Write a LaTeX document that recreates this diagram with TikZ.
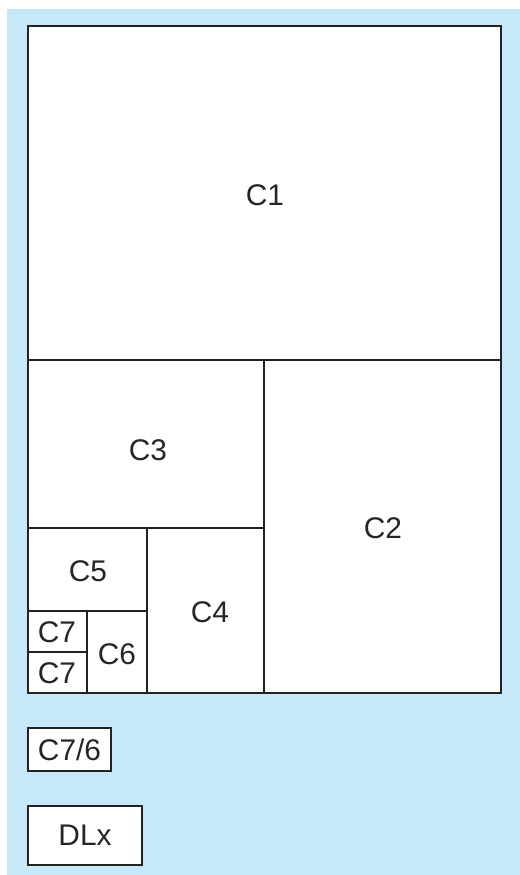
\documentclass[tikz,border=0pt]{standalone}
\usepackage{fontspec}
\setmainfont{Liberation Sans}
\usetikzlibrary{positioning}
\definecolor{skyblue}{RGB}{198,232,248}
\definecolor{edge}{RGB}{34,34,34}

\begin{document}
\begin{tikzpicture}[x=0.02cm,y=-0.02cm,
    wall/.style={draw=edge, line width=1.1pt},
    lbl/.style={font=\fontsize{17}{19}\selectfont, text=black!85},
    tag/.style={draw=edge, line width=1.1pt, fill=white, inner sep=0pt, font=\fontsize{17}{19}\selectfont, text=black!85}]
        % Background
        \fill[white] (0,0) rectangle (520,875);
        \fill[skyblue] (7,9) rectangle (520,875);
        \useasboundingbox (0,0) rectangle (520,875);
        % Define coordinates
        \coordinate (TL) at (28,26);
        \coordinate (BR) at (501,693);
        % Outer frame
        \draw[wall, fill=white] (TL) rectangle (BR);
        % Split lines
        \draw[wall] (28,360) -- (501,360);
        \draw[wall] (264,360) -- (264,693);
        \draw[wall] (28,528) -- (264,528);
        \draw[wall] (147,528) -- (147,693);
        \draw[wall] (28,611) -- (147,611);
        \draw[wall] (87,611) -- (87,693);
        \draw[wall] (28,652) -- (87,652);
        % Cell labels
        \node[lbl] (c1) at (265,195) {C1};
        \node[lbl] (c2) at (383,528) {C2};
        \node[lbl] (c3) at (148,450) {C3};
        \node[lbl] (c4) at (210,612) {C4};
        \node[lbl] (c5) at (88,571) {C5};
        \node[lbl] (c6) at (117,654) {C6};
        \node[lbl] (c7a) at (57,632) {C7};
        \node[lbl] (c7b) at (57,673) {C7};
        % Legend boxes
        \node[tag, minimum width=1.66cm, minimum height=0.86cm] (c76) at (69.5,749.5) {C7/6};
        \node[tag, minimum width=2.28cm, minimum height=1.18cm] (dlx) at (85,835.5) {DLx};
\end{tikzpicture}
\end{document}
